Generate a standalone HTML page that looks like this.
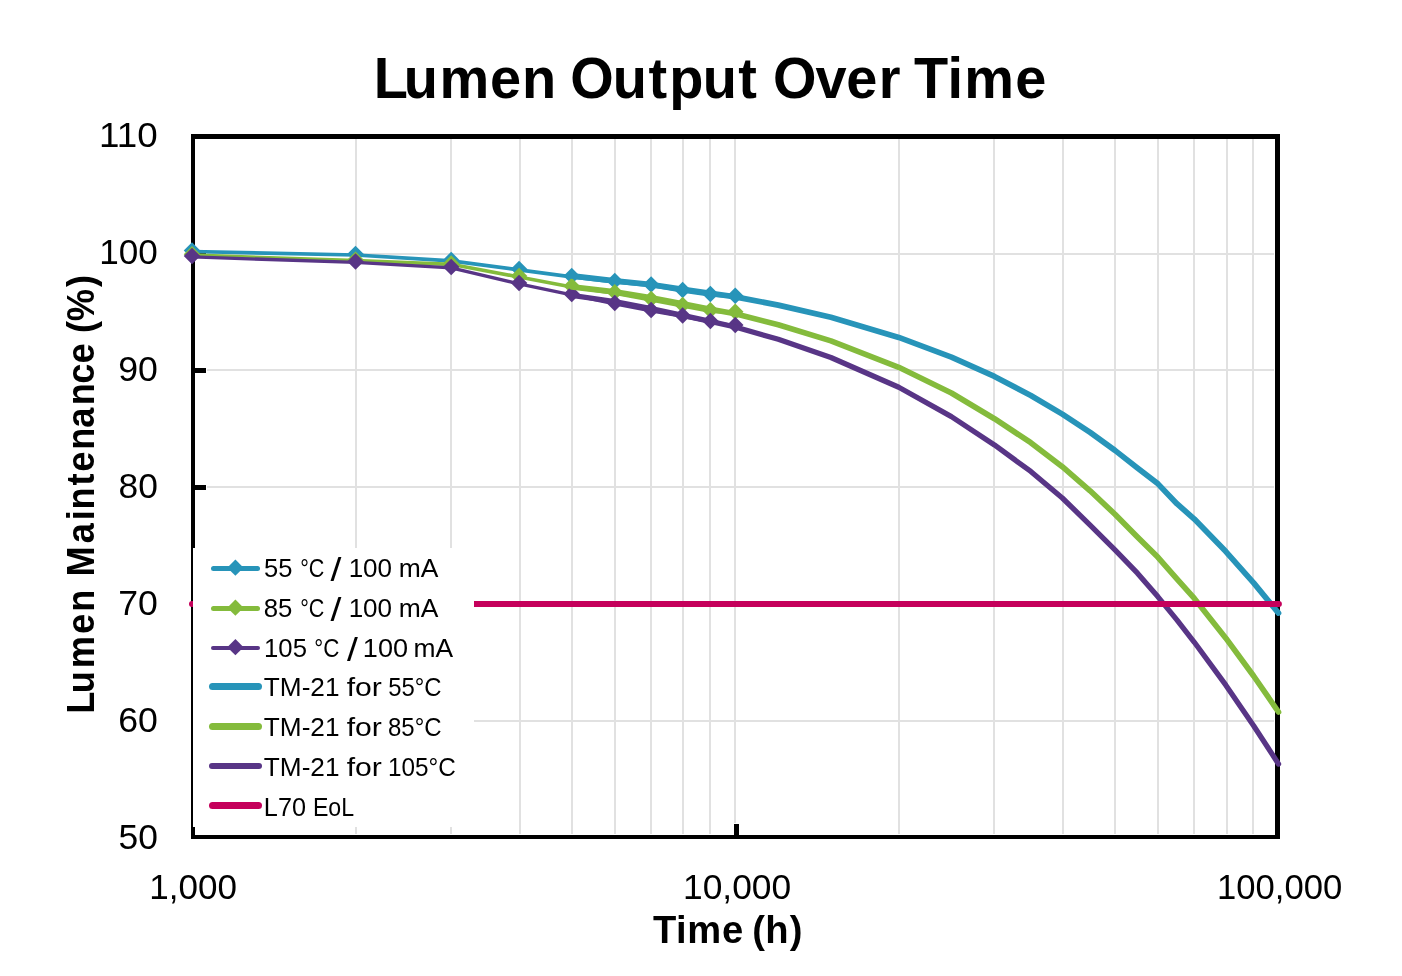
<!DOCTYPE html>
<html lang="en"><head><meta charset="utf-8"><title>Lumen Output Over Time</title>
<style>html,body{margin:0;padding:0;background:#fff;}body{width:1402px;height:976px;overflow:hidden;}svg{display:block;}text{font-family:"Liberation Sans",sans-serif;fill:#000;}</style></head><body>
<svg width="1402" height="976" viewBox="0 0 1402 976">
<rect width="1402" height="976" fill="#fff"/>
<g fill="#E1E1E1" shape-rendering="crispEdges">
<rect x="355" y="139" width="2" height="695"/>
<rect x="450" y="139" width="2" height="695"/>
<rect x="519" y="139" width="2" height="695"/>
<rect x="571" y="139" width="2" height="695"/>
<rect x="614" y="139" width="2" height="695"/>
<rect x="650" y="139" width="2" height="695"/>
<rect x="682" y="139" width="2" height="695"/>
<rect x="709" y="139" width="2" height="695"/>
<rect x="734" y="139" width="2" height="684"/>
<rect x="898" y="139" width="2" height="695"/>
<rect x="993" y="139" width="2" height="695"/>
<rect x="1062" y="139" width="2" height="695"/>
<rect x="1114" y="139" width="2" height="695"/>
<rect x="1157" y="139" width="2" height="695"/>
<rect x="1193" y="139" width="2" height="695"/>
<rect x="1226" y="139" width="2" height="695"/>
<rect x="1252" y="139" width="2" height="695"/>
<rect x="207" y="253" width="1067" height="2"/>
<rect x="207" y="369" width="1067" height="2"/>
<rect x="207" y="486" width="1067" height="2"/>
<rect x="207" y="603" width="1067" height="2"/>
<rect x="207" y="720" width="1067" height="2"/>
</g>
<g fill="#000" shape-rendering="crispEdges">
<rect x="191" y="134" width="4" height="705"/>
<rect x="191" y="835" width="1089" height="4"/>
<rect x="191" y="134" width="1089" height="5"/>
<rect x="1275" y="134" width="5" height="705"/>
<rect x="195" y="252" width="11" height="5"/>
<rect x="195" y="368" width="11" height="5"/>
<rect x="195" y="485" width="11" height="5"/>
<rect x="195" y="602" width="11" height="5"/>
<rect x="195" y="719" width="11" height="5"/>
<rect x="734" y="824" width="5" height="11"/>
</g>
<polyline points="192.00,251.50 355.53,255.00 451.20,260.80 519.07,269.80 571.72,276.80 614.73,282.00 651.10,285.40 682.60,290.90 710.39,294.80 735.25,296.70" fill="none" stroke="#2794B9" stroke-width="3.7" stroke-linejoin="round" stroke-linecap="round"/>
<path d="M192.00 242.35L200.25 250.60L192.00 258.85L183.75 250.60Z" fill="#2794B9"/>
<path d="M355.53 245.85L363.78 254.10L355.53 262.35L347.28 254.10Z" fill="#2794B9"/>
<path d="M451.20 251.65L459.45 259.90L451.20 268.15L442.95 259.90Z" fill="#2794B9"/>
<path d="M519.07 260.65L527.32 268.90L519.07 277.15L510.82 268.90Z" fill="#2794B9"/>
<path d="M571.72 267.65L579.97 275.90L571.72 284.15L563.47 275.90Z" fill="#2794B9"/>
<path d="M614.73 272.85L622.98 281.10L614.73 289.35L606.48 281.10Z" fill="#2794B9"/>
<path d="M651.10 276.25L659.35 284.50L651.10 292.75L642.85 284.50Z" fill="#2794B9"/>
<path d="M682.60 281.75L690.85 290.00L682.60 298.25L674.35 290.00Z" fill="#2794B9"/>
<path d="M710.39 285.65L718.64 293.90L710.39 302.15L702.14 293.90Z" fill="#2794B9"/>
<path d="M735.25 287.55L743.50 295.80L735.25 304.05L727.00 295.80Z" fill="#2794B9"/>
<polyline points="192.00,255.20 355.53,260.60 451.20,264.30 519.07,276.95 571.72,286.95 614.73,293.10 651.10,300.00 682.60,305.90 710.39,311.20 735.25,312.70" fill="none" stroke="#84BB3C" stroke-width="3.7" stroke-linejoin="round" stroke-linecap="round"/>
<path d="M192.00 246.05L200.25 254.30L192.00 262.55L183.75 254.30Z" fill="#84BB3C"/>
<path d="M355.53 251.45L363.78 259.70L355.53 267.95L347.28 259.70Z" fill="#84BB3C"/>
<path d="M451.20 255.15L459.45 263.40L451.20 271.65L442.95 263.40Z" fill="#84BB3C"/>
<path d="M519.07 267.80L527.32 276.05L519.07 284.30L510.82 276.05Z" fill="#84BB3C"/>
<path d="M571.72 277.80L579.97 286.05L571.72 294.30L563.47 286.05Z" fill="#84BB3C"/>
<path d="M614.73 283.95L622.98 292.20L614.73 300.45L606.48 292.20Z" fill="#84BB3C"/>
<path d="M651.10 290.85L659.35 299.10L651.10 307.35L642.85 299.10Z" fill="#84BB3C"/>
<path d="M682.60 296.75L690.85 305.00L682.60 313.25L674.35 305.00Z" fill="#84BB3C"/>
<path d="M710.39 302.05L718.64 310.30L710.39 318.55L702.14 310.30Z" fill="#84BB3C"/>
<path d="M735.25 303.55L743.50 311.80L735.25 320.05L727.00 311.80Z" fill="#84BB3C"/>
<polyline points="192.00,256.90 355.53,262.40 451.20,267.80 519.07,283.95 571.72,294.80 614.73,303.80 651.10,310.90 682.60,316.30 710.39,321.80 735.25,325.90" fill="none" stroke="#583586" stroke-width="3.3" stroke-linejoin="round" stroke-linecap="round"/>
<path d="M192.00 247.75L200.25 256.00L192.00 264.25L183.75 256.00Z" fill="#583586"/>
<path d="M355.53 253.25L363.78 261.50L355.53 269.75L347.28 261.50Z" fill="#583586"/>
<path d="M451.20 258.65L459.45 266.90L451.20 275.15L442.95 266.90Z" fill="#583586"/>
<path d="M519.07 274.80L527.32 283.05L519.07 291.30L510.82 283.05Z" fill="#583586"/>
<path d="M571.72 285.65L579.97 293.90L571.72 302.15L563.47 293.90Z" fill="#583586"/>
<path d="M614.73 294.65L622.98 302.90L614.73 311.15L606.48 302.90Z" fill="#583586"/>
<path d="M651.10 301.75L659.35 310.00L651.10 318.25L642.85 310.00Z" fill="#583586"/>
<path d="M682.60 307.15L690.85 315.40L682.60 323.65L674.35 315.40Z" fill="#583586"/>
<path d="M710.39 312.65L718.64 320.90L710.39 329.15L702.14 320.90Z" fill="#583586"/>
<path d="M735.25 316.75L743.50 325.00L735.25 333.25L727.00 325.00Z" fill="#583586"/>
<polyline points="571.72,275.80 614.73,280.90 651.10,284.60 682.60,289.20 710.39,293.30 735.25,296.90 778.27,305.12 830.91,317.34 898.78,337.40 951.43,357.10 994.45,376.45 1030.81,395.44 1062.32,414.09 1090.11,432.39 1114.97,450.37 1137.45,468.02 1157.98,483.85 1176.87,503.66 1194.35,519.06 1225.85,551.56 1253.64,582.90 1278.50,613.10" fill="none" stroke="#2794B9" stroke-width="5.7" stroke-linejoin="round" stroke-linecap="round"/>
<polyline points="571.72,286.90 614.73,291.90 651.10,297.70 682.60,303.90 710.39,309.20 735.25,313.80 778.27,324.71 830.91,340.88 898.78,367.29 951.43,393.06 994.45,418.70 1030.81,442.73 1062.32,466.65 1090.11,490.80 1114.97,514.27 1137.45,536.98 1157.98,557.35 1176.87,578.99 1194.35,598.42 1225.85,638.17 1253.64,676.00 1278.50,712.00" fill="none" stroke="#84BB3C" stroke-width="5.7" stroke-linejoin="round" stroke-linecap="round"/>
<polyline points="571.72,295.40 614.73,301.50 651.10,308.70 682.60,315.30 710.39,321.30 735.25,327.00 778.27,339.32 830.91,357.55 898.78,387.25 951.43,416.62 994.45,444.98 1030.81,471.47 1062.32,497.99 1090.11,525.06 1114.97,549.82 1137.45,573.18 1157.98,596.86 1176.87,619.88 1194.35,642.26 1225.85,685.16 1253.64,725.69 1278.50,764.00" fill="none" stroke="#583586" stroke-width="5.3" stroke-linejoin="round" stroke-linecap="round"/>
<line x1="192.00" y1="604" x2="1278.90" y2="604" stroke="#C5005B" stroke-width="6" stroke-linecap="round"/>
<rect x="193" y="548" width="281" height="279" fill="#fff"/>
<line x1="213.50" y1="568.50" x2="257.50" y2="568.50" stroke="#2794B9" stroke-width="5" stroke-linecap="round"/>
<path d="M235.40 559.55L243.55 567.70L235.40 575.85L227.25 567.70Z" fill="#2794B9"/>
<line x1="213.50" y1="608.50" x2="257.50" y2="608.50" stroke="#84BB3C" stroke-width="5" stroke-linecap="round"/>
<path d="M235.40 599.55L243.55 607.70L235.40 615.85L227.25 607.70Z" fill="#84BB3C"/>
<line x1="213.00" y1="648.00" x2="258.00" y2="648.00" stroke="#583586" stroke-width="4" stroke-linecap="round"/>
<path d="M235.40 639.05L243.55 647.20L235.40 655.35L227.25 647.20Z" fill="#583586"/>
<line x1="212.50" y1="686.50" x2="258.50" y2="686.50" stroke="#2794B9" stroke-width="7" stroke-linecap="round"/>
<line x1="212.50" y1="726.50" x2="258.50" y2="726.50" stroke="#84BB3C" stroke-width="7" stroke-linecap="round"/>
<line x1="212.00" y1="766.00" x2="259.00" y2="766.00" stroke="#583586" stroke-width="6" stroke-linecap="round"/>
<line x1="212.50" y1="805.50" x2="258.50" y2="805.50" stroke="#C5005B" stroke-width="7" stroke-linecap="round"/>
<text transform="scale(0.9697 1)" font-size="57.7" font-weight="bold"><tspan x="385.41 416.47 453.18 505.25 538.32" y="97.80">Lumen</tspan> <tspan x="588.00 631.96 668.66 690.20 724.77 761.37" y="97.80">Output</tspan> <tspan x="797.14 840.95 872.59 906.31" y="97.80">Over</tspan> <tspan x="942.46 977.09 994.46 1046.93" y="97.80">Time</tspan></text>
<text font-size="35.0"><tspan x="99.11" y="147.00" textLength="58.67" lengthAdjust="spacingAndGlyphs">110</tspan></text>
<text font-size="35.0"><tspan x="99.24" y="264.00" textLength="58.57" lengthAdjust="spacingAndGlyphs">100</tspan></text>
<text font-size="35.0"><tspan x="118.22" y="380.90" textLength="39.65" lengthAdjust="spacingAndGlyphs">90</tspan></text>
<text font-size="35.0"><tspan x="118.48" y="497.90" textLength="39.37" lengthAdjust="spacingAndGlyphs">80</tspan></text>
<text font-size="35.0"><tspan x="118.22" y="614.80" textLength="39.65" lengthAdjust="spacingAndGlyphs">70</tspan></text>
<text font-size="35.0"><tspan x="118.22" y="731.70" textLength="39.65" lengthAdjust="spacingAndGlyphs">60</tspan></text>
<text font-size="35.0"><tspan x="118.48" y="848.60" textLength="39.37" lengthAdjust="spacingAndGlyphs">50</tspan></text>
<text font-size="35.0"><tspan x="149.35" y="898.90" textLength="87.70" lengthAdjust="spacingAndGlyphs">1,000</tspan></text>
<text font-size="35.0"><tspan x="683.02" y="898.90" textLength="108.10" lengthAdjust="spacingAndGlyphs">10,000</tspan></text>
<text font-size="35.0"><tspan x="1217.08" y="898.90" textLength="125.19" lengthAdjust="spacingAndGlyphs">100,000</tspan></text>
<text transform="scale(0.9654 1)" font-size="39.5" font-weight="bold"><tspan x="676.42 700.11 711.95 747.81" y="942.70">Time</tspan> <tspan x="779.27 792.70 818.00" y="942.70">(h)</tspan></text>
<text transform="translate(93.90 1000) rotate(-90) scale(0.917 1)" font-size="39.5" font-weight="bold"><tspan x="312.29 334.64 361.71 399.18 423.28" y="0.00">Lumen</tspan> <tspan x="461.94 498.09 523.05 534.96 561.01 576.10 600.01 624.04 648.59 672.13 694.20" y="0.00">Maintenance</tspan> <tspan x="727.36 740.21 777.42" y="0.00">(%)</tspan></text>
<text font-size="26.6"><tspan x="264.04" y="577.30" textLength="28.41" lengthAdjust="spacingAndGlyphs">55</tspan> <tspan x="300.18" y="577.30" textLength="24.20" lengthAdjust="spacingAndGlyphs">°C</tspan> <tspan x="330.60" y="580.90" font-size="33.0" textLength="10.90" lengthAdjust="spacingAndGlyphs">/</tspan> <tspan x="348.64" y="577.30" textLength="43.46" lengthAdjust="spacingAndGlyphs">100</tspan> <tspan x="398.76" y="577.30" textLength="39.68" lengthAdjust="spacingAndGlyphs">mA</tspan></text>
<text font-size="26.6"><tspan x="263.79" y="617.30" textLength="28.67" lengthAdjust="spacingAndGlyphs">85</tspan> <tspan x="300.18" y="617.30" textLength="24.20" lengthAdjust="spacingAndGlyphs">°C</tspan> <tspan x="330.60" y="620.90" font-size="33.0" textLength="10.90" lengthAdjust="spacingAndGlyphs">/</tspan> <tspan x="348.64" y="617.30" textLength="43.46" lengthAdjust="spacingAndGlyphs">100</tspan> <tspan x="398.76" y="617.30" textLength="39.68" lengthAdjust="spacingAndGlyphs">mA</tspan></text>
<text font-size="26.6"><tspan x="264.07" y="657.20" textLength="42.92" lengthAdjust="spacingAndGlyphs">105</tspan> <tspan x="314.34" y="657.20" textLength="25.08" lengthAdjust="spacingAndGlyphs">°C</tspan> <tspan x="347.00" y="660.80" font-size="33.0" textLength="10.90" lengthAdjust="spacingAndGlyphs">/</tspan> <tspan x="362.86" y="657.20" textLength="45.18" lengthAdjust="spacingAndGlyphs">100</tspan> <tspan x="413.46" y="657.20" textLength="39.58" lengthAdjust="spacingAndGlyphs">mA</tspan></text>
<text font-size="26.6"><tspan x="263.81" y="696.30" textLength="75.72" lengthAdjust="spacingAndGlyphs">TM-21</tspan> <tspan x="346.73" y="696.30" textLength="35.19" lengthAdjust="spacingAndGlyphs">for</tspan> <tspan x="388.20" y="696.30" textLength="53.35" lengthAdjust="spacingAndGlyphs">55°C</tspan></text>
<text font-size="26.6"><tspan x="263.81" y="736.10" textLength="75.72" lengthAdjust="spacingAndGlyphs">TM-21</tspan> <tspan x="346.73" y="736.10" textLength="35.19" lengthAdjust="spacingAndGlyphs">for</tspan> <tspan x="387.97" y="736.10" textLength="53.58" lengthAdjust="spacingAndGlyphs">85°C</tspan></text>
<text font-size="26.6"><tspan x="263.81" y="775.80" textLength="75.72" lengthAdjust="spacingAndGlyphs">TM-21</tspan> <tspan x="346.73" y="775.80" textLength="35.19" lengthAdjust="spacingAndGlyphs">for</tspan> <tspan x="387.97" y="775.80" textLength="67.84" lengthAdjust="spacingAndGlyphs">105°C</tspan></text>
<text font-size="26.6"><tspan x="263.87" y="815.70" textLength="42.10" lengthAdjust="spacingAndGlyphs">L70</tspan> <tspan x="312.94" y="815.70" textLength="41.18" lengthAdjust="spacingAndGlyphs">EoL</tspan></text>
</svg></body></html>
